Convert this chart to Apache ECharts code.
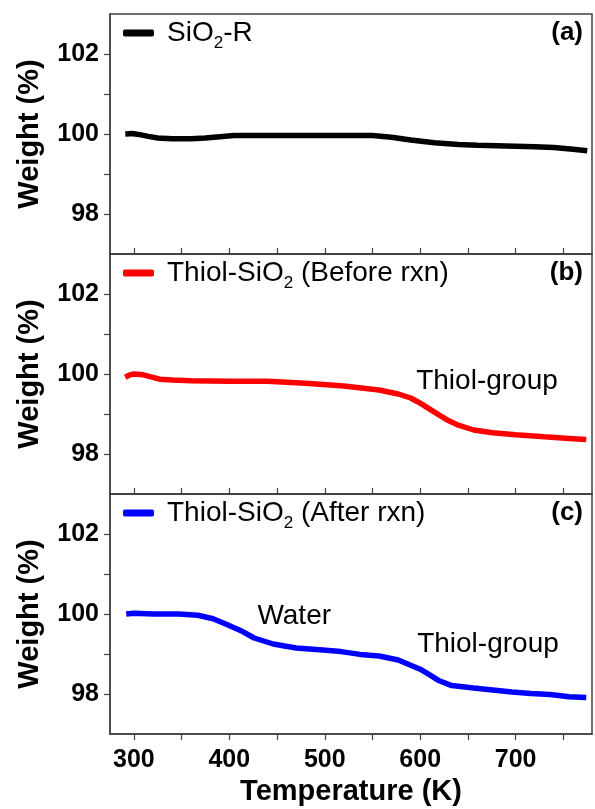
<!DOCTYPE html>
<html>
<head>
<meta charset="utf-8">
<script src="https://cdn.jsdelivr.net/npm/echarts@6/dist/echarts.min.js"></script>
<style>
html,body{margin:0;padding:0;background:#fff;}
#main{width:595px;height:809px;}
</style>
</head>
<body>
<div id="main"></div>
<script>
// TGA curves, temperature in K, weight in %
var tempA = [291, 298, 305, 315, 325, 340, 360, 375, 390, 405, 450, 500, 550, 570, 590, 615, 640, 660, 690, 720, 740, 760, 775];
var weightA = [100.0, 100.01, 99.99, 99.94, 99.9, 99.88, 99.88, 99.9, 99.93, 99.96, 99.96, 99.96, 99.96, 99.92, 99.85, 99.78, 99.74, 99.72, 99.7, 99.68, 99.66, 99.62, 99.58];

var tempB = [291, 295, 300, 310, 318, 327, 340, 360, 400, 440, 480, 520, 557, 577, 590, 600, 610, 620, 630, 640, 656, 676, 700, 730, 756, 774];
var weightB = [99.92, 99.97, 100.0, 99.98, 99.93, 99.87, 99.85, 99.83, 99.82, 99.82, 99.77, 99.7, 99.6, 99.5, 99.4, 99.27, 99.12, 98.97, 98.83, 98.72, 98.6, 98.53, 98.48, 98.43, 98.39, 98.36];

var tempC = [292, 300, 320, 347, 367, 383, 398, 414, 426, 446, 470, 498, 517, 537, 557, 577, 590, 600, 610, 620, 633, 656, 676, 696, 716, 736, 756, 774];
var weightC = [100.0, 100.02, 100.0, 100.0, 99.97, 99.88, 99.73, 99.56, 99.4, 99.25, 99.15, 99.1, 99.06, 98.99, 98.95, 98.85, 98.72, 98.62, 98.48, 98.33, 98.21, 98.15, 98.1, 98.05, 98.01, 97.99, 97.93, 97.91];

var seriesNames = ['SiO2-R', 'Thiol-SiO2 (Before rxn)', 'Thiol-SiO2 (After rxn)'];
var seriesColors = ['#000000', '#ff0000', '#0000ff'];
var panelLabels = ['(a)', '(b)', '(c)'];

var xLabels = [300, 400, 500, 600, 700];
var xTicks = [300, 350, 400, 450, 500, 550, 600, 650, 700, 750];
var yLabels = [98, 100, 102];
var yTicks = [98, 99, 100, 101, 102];

function pairs(t, w){
	var out = [];
	for (var i = 0; i < t.length; i++) {
		out.push([t[i], w[i]]);
	}
	return out;
}
var datas = [pairs(tempA, weightA), pairs(tempB, weightB), pairs(tempC, weightC)];

var gridTops = [14, 254, 494];
var boxColor = '#404040';
var font = 'Liberation Sans';

var grids = [], xAxes = [], yAxes = [], series = [], legends = [], titles = [];
for (var i = 0; i < 3; i++) {
	var last = (i == 2);
	grids.push({
		left: 110, right: 3, top: gridTops[i], height: 240,
		show: true, borderColor: boxColor, borderWidth: 1.5, backgroundColor: 'transparent'
	});
	xAxes.push({
		type: 'value', gridIndex: i, min: 275, max: 780,
		axisLine: {show: true, lineStyle: {color: boxColor, width: 1.5}},
		axisTick: {show: true, inside: !last, length: 6, customValues: xTicks, lineStyle: {color: boxColor, width: 1.2}},
		axisLabel: {show: last, customValues: xLabels, color: '#000', fontSize: 25, fontWeight: 'bold', fontFamily: font, margin: 14},
		splitLine: {show: false},
		name: last ? 'Temperature (K)' : '',
		nameLocation: 'middle', nameGap: 43,
		nameTextStyle: {color: '#000', fontSize: 29, fontWeight: 'bold', fontFamily: font}
	});
	yAxes.push({
		type: 'value', gridIndex: i, min: 97, max: 103,
		axisLine: {show: true, lineStyle: {color: boxColor, width: 1.5}},
		axisTick: {show: true, inside: false, length: 6, customValues: yTicks, lineStyle: {color: boxColor, width: 1.2}},
		axisLabel: {customValues: yLabels, color: '#000', fontSize: 25, fontWeight: 'bold', fontFamily: font, margin: 11},
		splitLine: {show: false},
		name: 'Weight (%)', nameLocation: 'middle', nameGap: 66,
		nameTextStyle: {color: '#000', fontSize: 29, fontWeight: 'bold', fontFamily: font}
	});
	series.push({
		name: seriesNames[i], type: 'line', xAxisIndex: i, yAxisIndex: i,
		data: datas[i], showSymbol: false, symbol: 'none',
		lineStyle: {color: seriesColors[i], width: 5.5},
		itemStyle: {color: seriesColors[i]},
		animation: false
	});
	legends.push({
		data: [seriesNames[i]], left: 118, top: gridTops[i],
		icon: 'roundRect', itemWidth: 31, itemHeight: 7, itemGap: 10,
		formatter: function(name){ return '{n|' + name.replace('SiO2', 'SiO}{s|2}{n|') + '}'; },
		textStyle: {color: '#000', fontSize: 28, fontFamily: font, padding: [0, 0, 0, 8],
			rich: {
				n: {fontSize: 28, lineHeight: 28, fontFamily: font, color: '#000', verticalAlign: 'top'},
				s: {fontSize: 17, lineHeight: 17, fontFamily: font, color: '#000', verticalAlign: 'top', padding: [16, 0, 0, 0]}
			}}
	});
	titles.push({
		text: panelLabels[i], right: 7, top: gridTops[i] + 1,
		textStyle: {color: '#000', fontSize: 26, fontWeight: 'bold', fontFamily: font}
	});
}

// text notes on panels b and c
function note(text, t, w){
	return {coord: [t, w], value: text, symbol: 'circle', symbolSize: 0,
		label: {show: true, position: 'inside', formatter: text, color: '#000', fontSize: 28, fontFamily: font}};
}
series[1].markPoint = {animation: false, data: [note('Thiol-group', 670, 99.83)]};
series[2].markPoint = {animation: false, data: [note('Water', 468, 99.94), note('Thiol-group', 671, 99.25)]};

var option = {
	backgroundColor: '#fff',
	animation: false,
	title: titles,
	legend: legends,
	grid: grids,
	xAxis: xAxes,
	yAxis: yAxes,
	series: series
};

var mychart = echarts.init(document.getElementById('main'));
mychart.setOption(option);
</script>
</body>
</html>
